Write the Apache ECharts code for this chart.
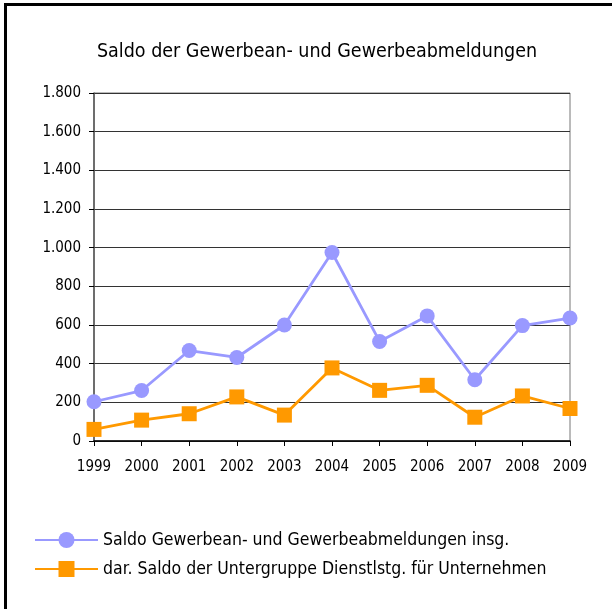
<!DOCTYPE html>
<html><head><meta charset="utf-8">
<script src="https://cdn.jsdelivr.net/npm/echarts@6/dist/echarts.min.js"></script>
<style>html,body{margin:0;padding:0;background:#fff;}#c{width:612px;height:609px;position:relative;}
#frame{position:absolute;left:4px;top:3px;right:-10px;bottom:-10px;border:3px solid #000;pointer-events:none;}</style>
</head><body><div id="c"></div><div id="frame"></div>
<script>
const years = ['1999','2000','2001','2002','2003','2004','2005','2006','2007','2008','2009'];
const seriesTotal = [203, 261, 468, 432, 600, 975, 515, 647, 317, 597, 636];
const seriesServices = [60, 108, 141, 228, 134, 378, 262, 288, 123, 233, 168];
const nameTotal = 'Saldo Gewerbean- und Gewerbeabmeldungen insg.';
const nameServices = 'dar. Saldo der Untergruppe Dienstlstg. für Unternehmen';
const titleText = 'Saldo der Gewerbean- und Gewerbeabmeldungen';
const FONT = '"DejaVu Sans Condensed", "Liberation Sans Narrow", sans-serif';

const chart = echarts.init(document.getElementById('c'), null, {renderer:'canvas'});
chart.setOption({
  animation:false,
  textStyle:{fontFamily:FONT},
  title:{text:titleText,left:312,textAlign:'center',top:37,textStyle:{fontFamily:FONT,fontSize:19.5,fontWeight:'normal',color:'#000'}},
  grid:{left:94,right:42,top:93,bottom:168,show:true,borderColor:'#777',borderWidth:1},
  xAxis:{type:'category',data:years,boundaryGap:false,
    axisLine:{lineStyle:{color:'#000',width:1.5}},
    axisTick:{show:true,length:5,lineStyle:{color:'#000'}},
    axisLabel:{color:'#000',fontSize:15,fontFamily:FONT,margin:19}},
  yAxis:{type:'value',min:0,max:1800,interval:200,
    axisLine:{show:true,lineStyle:{color:'#555',width:1.5}},
    axisTick:{show:true,length:5,lineStyle:{color:'#000'}},
    splitLine:{lineStyle:{color:'#333',width:1.2}},
    axisLabel:{color:'#000',fontSize:15,fontFamily:FONT,margin:13,
      formatter:v=>v>=1000?Math.floor(v/1000)+'.'+String(v%1000).padStart(3,'0'):String(v)}},
  legend:{orient:'vertical',left:29,top:526,itemGap:11,itemWidth:63,itemHeight:20,
    textStyle:{fontFamily:FONT,fontSize:17.5,color:'#000'},data:[nameTotal,nameServices]},
  series:[
    {name:nameTotal,type:'line',data:seriesTotal,symbol:'circle',symbolSize:15,
      lineStyle:{color:'#9999FF',width:2.8},itemStyle:{color:'#9999FF'}},
    {name:nameServices,type:'line',data:seriesServices,symbol:'rect',symbolSize:15,
      lineStyle:{color:'#FF9900',width:2.8},itemStyle:{color:'#FF9900'}}
  ]
});
</script></body></html>
